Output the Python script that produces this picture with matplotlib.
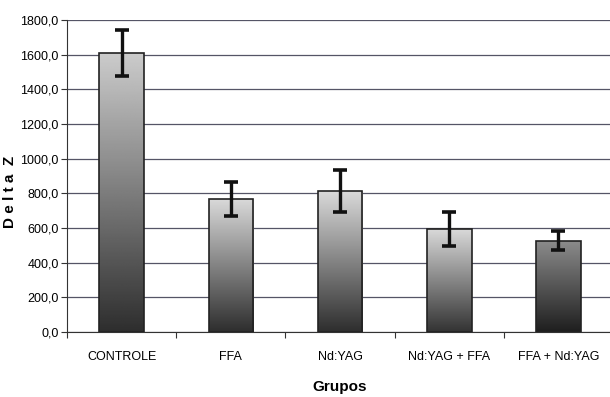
import numpy as np
import matplotlib
matplotlib.use("Agg")
import matplotlib.pyplot as plt
from matplotlib.patches import Rectangle
from matplotlib.ticker import FuncFormatter, MultipleLocator

grupos = ["CONTROLE", "FFA", "Nd:YAG", "Nd:YAG + FFA", "FFA + Nd:YAG"]
delta_z = [1610, 767, 813, 594, 525]
erro = [132, 98, 120, 100, 55]

plt.rcParams['font.family'] = ['Liberation Sans Narrow', 'Liberation Sans', 'DejaVu Sans']

fig = plt.figure(figsize=(6.1, 3.97), dpi=100)
ax = fig.add_axes([0.110, 0.164, 0.895, 0.786])

x = np.arange(len(grupos)) + 0.5
width = 0.41
# brightness at top / bottom of each bar (scan gradient)
shade_top = [0.80, 0.85, 0.85, 0.85, 0.55]
shade_bot = [0.18, 0.18, 0.18, 0.20, 0.12]

for i, (xi, v) in enumerate(zip(x, delta_z)):
    grad = np.linspace(shade_bot[i], shade_top[i], 256).reshape(-1, 1)
    im = ax.imshow(grad, cmap='gray', vmin=0, vmax=1, origin='lower',
                   extent=[xi - width / 2, xi + width / 2, 0, v],
                   aspect='auto', zorder=2)
    rect = Rectangle((xi - width / 2, 0), width, v, facecolor='none',
                     edgecolor='#222222', linewidth=1.2, zorder=3)
    ax.add_patch(rect)
    im.set_clip_path(rect)

ax.errorbar(x, delta_z, yerr=erro, fmt='none', ecolor='#111111',
            elinewidth=2.4, capsize=5, capthick=2.6, zorder=4)

ax.set_xlim(0, len(grupos))
ax.set_ylim(0, 1800)
ax.yaxis.set_major_locator(MultipleLocator(200))
ax.yaxis.set_major_formatter(FuncFormatter(lambda v, p: f"{v:.1f}".replace('.', ',')))
ax.grid(axis='y', color='#555566', linewidth=0.9, zorder=0)
ax.set_axisbelow(True)

ax.set_xticks(np.arange(len(grupos) + 1))
ax.set_xticklabels([])
ax.set_xticks(x, minor=True)
ax.set_xticklabels(grupos, minor=True, fontsize=9)
ax.tick_params(axis='x', which='minor', length=0, pad=14)
ax.tick_params(axis='x', which='major', length=4, color='#333333')
ax.tick_params(axis='y', labelsize=9, length=4, color='#333333', pad=2)

for s in ['top', 'right']:
    ax.spines[s].set_visible(False)
ax.spines['left'].set_color('#333333')
ax.spines['bottom'].set_color('#333333')

ax.set_ylabel("D e l t a  Z", fontsize=11, fontweight='bold')
ax.yaxis.set_label_coords(-0.092, 0.45)
ax.set_xlabel("Grupos", fontsize=11, fontweight='bold', labelpad=12)

fig.savefig("out.png", dpi=100, facecolor='white')
